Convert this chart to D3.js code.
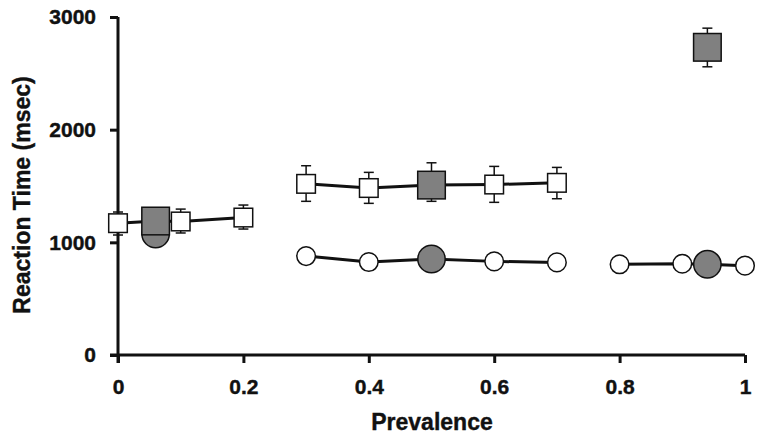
<!DOCTYPE html>
<html>
<head>
<meta charset="utf-8">
<script src="https://cdn.jsdelivr.net/npm/d3@7"></script>
<style>
  html, body { margin: 0; padding: 0; background: #fff; }
  svg { display: block; font-family: "Liberation Sans", Arial, Helvetica, sans-serif; font-weight: bold; }
</style>
</head>
<body>
<svg id="chart" width="764" height="439"></svg>
<script>
// ---- Data ----
const xTicks = [0, 0.2, 0.4, 0.6, 0.8, 1];
const xTickLabels = ["0", "0.2", "0.4", "0.6", "0.8", "1"];
const yTicks = [0, 1000, 2000, 3000];
const yTickLabels = ["0", "1000", "2000", "3000"];

// white squares (with error bars)
const whiteSqX = [0, 0.1, 0.2, 0.3, 0.4, 0.6, 0.7];
const whiteSqRT = [1170, 1185, 1220, 1519, 1482, 1513, 1528];
const whiteSqHi = [1269, 1295, 1331, 1680, 1621, 1674, 1665];
const whiteSqLo = [1065, 1083, 1118, 1364, 1346, 1355, 1387];

// white circles
const whiteCircX = [0.3, 0.4, 0.6, 0.7, 0.8, 0.9, 1.0];
const whiteCircRT = [878, 825, 831, 822, 805, 810, 793];

// gray (highlighted) points
const grayX = [0.06, 0.5, 0.94];
const graySqRT = [1189, 1508, 2731];
const graySqHi = [1250, 1706, 2901];
const graySqLo = [1130, 1364, 2558];
const grayCircRT = [1074, 852, 805];

// ranges within which points are connected by lines
const lineRanges = [[0, 0.2], [0.3, 0.7], [0.8, 1]];

// ---- Drawing ----
const svg = d3.select("#chart");
const x = d3.scaleLinear().domain([0, 1]).range([118, 745]);
const y = d3.scaleLinear().domain([0, 3000]).range([355, 17]);

const squares = whiteSqX.map((v, i) => ({x: v, y: whiteSqRT[i], lo: whiteSqLo[i], hi: whiteSqHi[i], gray: false}))
  .concat(grayX.map((v, i) => ({x: v, y: graySqRT[i], lo: graySqLo[i], hi: graySqHi[i], gray: true})));
const circles = whiteCircX.map((v, i) => ({x: v, y: whiteCircRT[i], gray: false}))
  .concat(grayX.map((v, i) => ({x: v, y: grayCircRT[i], gray: true})));

const line = d3.line().x(d => x(d.x)).y(d => y(d.y));

// axes
const yAxis = d3.axisLeft(y).tickValues(yTicks).tickFormat((d, i) => yTickLabels[i]).tickSize(8).tickPadding(14).tickSizeOuter(0);
const xAxis = d3.axisBottom(x).tickValues(xTicks).tickFormat((d, i) => xTickLabels[i]).tickSize(8).tickPadding(16).tickSizeOuter(0);

const gx = svg.append("g").attr("transform", "translate(0,355)").call(xAxis);
const gy = svg.append("g").attr("transform", "translate(118,0)").call(yAxis);
[gx, gy].forEach(g => {
  g.select(".domain").attr("stroke", "#111").attr("stroke-width", 3);
  g.selectAll(".tick line").attr("stroke", "#111").attr("stroke-width", 3);
  g.selectAll(".tick text").attr("fill", "#111").attr("font-size", 21)
    .attr("stroke", "#111").attr("stroke-width", 0.4)
    .attr("font-family", '"Liberation Sans", Arial, sans-serif').attr("font-weight", "bold");
});
// extend x axis line to meet y tick at 0 and y axis to meet x tick at 0
gx.select(".domain").attr("d", `M${110},0H${x(1)}`);
gy.select(".domain").attr("d", `M0,${y(3000)}V${363}`);

// axis titles
svg.append("text").attr("x", 432).attr("y", 430).attr("text-anchor", "middle")
  .attr("font-size", 23).attr("fill", "#111").attr("stroke", "#111").attr("stroke-width", 0.4).text("Prevalence");
svg.append("text").attr("transform", "translate(30,195) rotate(-90)").attr("text-anchor", "middle")
  .attr("font-size", 23).attr("fill", "#111").attr("stroke", "#111").attr("stroke-width", 0.4).text("Reaction Time (msec)");

const plot = svg.append("g");

// connecting lines
lineRanges.forEach(r => {
  [squares, circles].forEach(series => {
    const pts = series.filter(d => d.x >= r[0] && d.x <= r[1]).sort((a, b) => a.x - b.x);
    if (pts.length > 1) {
      plot.append("path").datum(pts).attr("d", line)
        .attr("fill", "none").attr("stroke", "#111").attr("stroke-width", 3);
    }
  });
});

// error bars
const eb = plot.selectAll(".eb").data(squares).enter().append("g").attr("class", "eb");
eb.append("line").attr("x1", d => x(d.x)).attr("x2", d => x(d.x))
  .attr("y1", d => y(d.hi)).attr("y2", d => y(d.lo)).attr("stroke", "#111").attr("stroke-width", 1.5);
eb.append("line").attr("x1", d => x(d.x) - 5).attr("x2", d => x(d.x) + 5)
  .attr("y1", d => y(d.hi)).attr("y2", d => y(d.hi)).attr("stroke", "#111").attr("stroke-width", 1.5);
eb.append("line").attr("x1", d => x(d.x) - 5).attr("x2", d => x(d.x) + 5)
  .attr("y1", d => y(d.lo)).attr("y2", d => y(d.lo)).attr("stroke", "#111").attr("stroke-width", 1.5);

// circles
plot.selectAll(".circ").data(circles).enter().append("circle").attr("class", "circ")
  .attr("cx", d => x(d.x)).attr("cy", d => y(d.y)).attr("r", d => d.gray ? 13.7 : 9.3)
  .attr("fill", d => d.gray ? "#808080" : "#fff").attr("stroke", "#111").attr("stroke-width", 1.5);

// squares
plot.selectAll(".sq").data(squares).enter().append("rect").attr("class", "sq")
  .attr("x", d => x(d.x) - (d.gray ? 13.8 : 9.3)).attr("y", d => y(d.y) - (d.gray ? 13.8 : 9.3))
  .attr("width", d => d.gray ? 27.6 : 18.6).attr("height", d => d.gray ? 27.6 : 18.6)
  .attr("fill", d => d.gray ? "#808080" : "#fff").attr("stroke", "#111").attr("stroke-width", 1.5);
</script>
</body>
</html>
